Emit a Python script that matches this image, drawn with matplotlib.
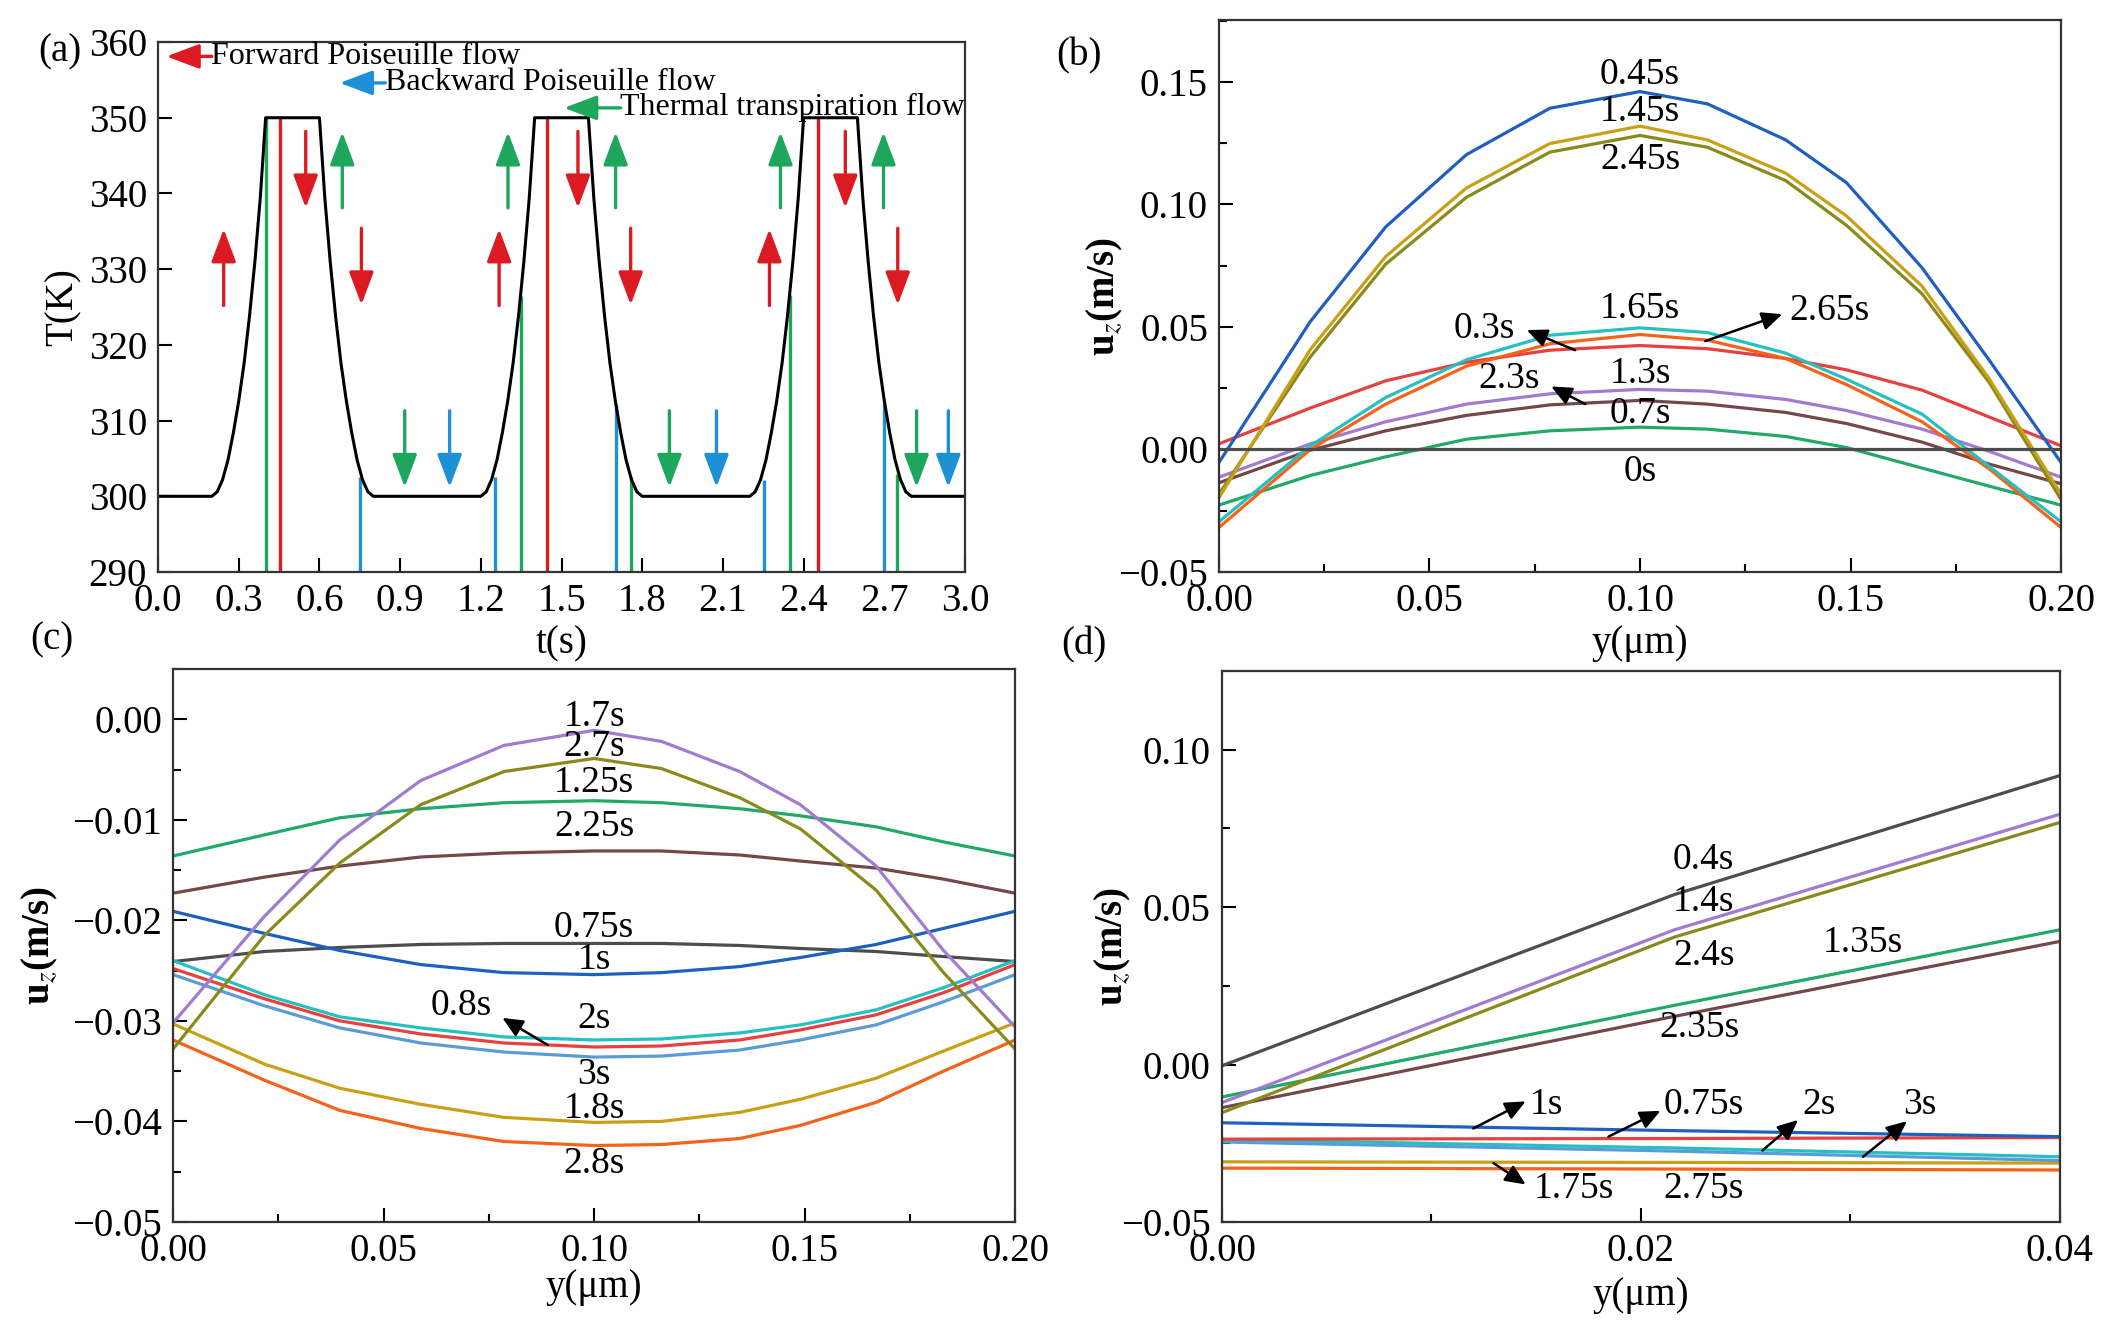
import matplotlib
matplotlib.use("Agg")
from matplotlib import pyplot as plt
from matplotlib.ticker import MultipleLocator

plt.rcParams["font.family"] = "serif"
plt.rcParams["font.serif"] = ["Liberation Serif", "DejaVu Serif"]
plt.rcParams["mathtext.fontset"] = "stix"

# ---- panel (a): wall temperature cycle ----
T_TIME = [0.00, 0.20, 0.22, 0.24, 0.26, 0.28, 0.30, 0.32, 0.34, 0.36, 0.38, 0.40,
          0.60, 0.62, 0.64, 0.66, 0.68, 0.70, 0.72, 0.74, 0.76, 0.78, 0.80,
          1.20, 1.22, 1.24, 1.26, 1.28, 1.30, 1.32, 1.34, 1.36, 1.38, 1.40,
          1.60, 1.62, 1.64, 1.66, 1.68, 1.70, 1.72, 1.74, 1.76, 1.78, 1.80,
          2.20, 2.22, 2.24, 2.26, 2.28, 2.30, 2.32, 2.34, 2.36, 2.38, 2.40,
          2.60, 2.62, 2.64, 2.66, 2.68, 2.70, 2.72, 2.74, 2.76, 2.78, 2.80, 3.00]
T_KELVIN = [300, 300, 300.6, 302.2, 304.8, 308.4, 312.6, 317.6, 323.8, 331.0, 339.4, 350,
            350, 339.4, 331.0, 323.8, 317.6, 312.6, 308.4, 304.8, 302.2, 300.6, 300,
            300, 300.6, 302.2, 304.8, 308.4, 312.6, 317.6, 323.8, 331.0, 339.4, 350,
            350, 339.4, 331.0, 323.8, 317.6, 312.6, 308.4, 304.8, 302.2, 300.6, 300,
            300, 300.6, 302.2, 304.8, 308.4, 312.6, 317.6, 323.8, 331.0, 339.4, 350,
            350, 339.4, 331.0, 323.8, 317.6, 312.6, 308.4, 304.8, 302.2, 300.6, 300, 300]

GREEN_LINE_T = [0.400, 1.351, 1.757, 2.351, 2.749]
GREEN_LINE_TOP = [350, 326.4, 302.6, 326.6, 303.0]
BLUE_LINE_T = [0.750, 1.252, 1.701, 2.252, 2.697]
BLUE_LINE_TOP = [302.6, 302.6, 312.2, 302.2, 312.2]
RED_LINE_T = [0.452, 1.447, 2.453]
RED_LINE_TOP = [350, 350, 350]

RED_UP_T = [0.244, 1.268, 2.273]
RED_DOWN_HI_T = [0.549, 1.561, 2.555]
RED_DOWN_LO_T = [0.756, 1.757, 2.750]
GREEN_UP_T = [0.685, 1.301, 1.701, 2.314, 2.697]
GREEN_DOWN_T = [0.917, 1.901, 2.820]
BLUE_DOWN_T = [1.084, 2.076, 2.938]

# ---- panels (b) and (c): profiles across the channel ----
Y_GRID = [0.0, 0.0217, 0.0396, 0.0588, 0.0786, 0.1, 0.116, 0.1346, 0.149, 0.167, 0.183, 0.2]

B_LABELS = ["0.3s", "0.7s", "2.3s", "1.3s", "2.65s", "1.65s", "2.45s", "1.45s", "0.45s", "0s"]
B_VALUES = [
    [0.0023, 0.0169, 0.028, 0.0356, 0.0405, 0.0424, 0.0411, 0.0371, 0.0325, 0.0242, 0.0132, 0.0015],
    [-0.0227, -0.0106, -0.003, 0.0042, 0.0076, 0.0091, 0.0083, 0.0053, 0.0008, -0.0076, -0.015, -0.0227],
    [-0.0136, -0.0003, 0.0076, 0.0139, 0.0182, 0.02, 0.0185, 0.0151, 0.0106, 0.003, -0.006, -0.014],
    [-0.0113, 0.0023, 0.0113, 0.0185, 0.0227, 0.0245, 0.0238, 0.0204, 0.0159, 0.0083, -0.0008, -0.0113],
    [-0.0318, 0.0, 0.0185, 0.034, 0.0431, 0.0469, 0.0446, 0.0371, 0.0265, 0.0113, -0.008, -0.0318],
    [-0.0295, 0.0015, 0.0212, 0.0366, 0.0466, 0.0496, 0.0477, 0.0393, 0.0287, 0.0144, -0.007, -0.0295],
    [-0.0182, 0.0378, 0.0756, 0.1029, 0.1213, 0.1281, 0.1233, 0.1097, 0.0915, 0.0635, 0.0272, -0.0204],
    [-0.0197, 0.0408, 0.0787, 0.1067, 0.1248, 0.1319, 0.1263, 0.1127, 0.0953, 0.0666, 0.0287, -0.0182],
    [-0.0053, 0.0522, 0.0908, 0.1203, 0.1392, 0.146, 0.141, 0.1263, 0.1089, 0.0741, 0.0363, -0.0053],
    [0, 0, 0, 0, 0, 0, 0, 0, 0, 0, 0, 0],
]
B_COLORS = ["#e8403f", "#22a86a", "#744848", "#a07bd0", "#f5621a", "#26c0c0",
            "#8a8a1c", "#c8a016", "#1f5fbf", "#4d4d4d"]

C_LABELS = ["1.25s", "2.25s", "0.75s", "1s", "3s", "0.8s", "2s", "1.8s", "2.8s", "2.7s", "1.7s"]
C_VALUES = [
    [-0.0136, -0.0115, -0.0098, -0.0089, -0.0083, -0.0081, -0.0083, -0.0089, -0.0096, -0.0107, -0.0122, -0.0136],
    [-0.0173, -0.0157, -0.0146, -0.0137, -0.0133, -0.0131, -0.0131, -0.0135, -0.0141, -0.0148, -0.0159, -0.0173],
    [-0.0241, -0.0231, -0.0227, -0.0224, -0.0223, -0.0223, -0.0223, -0.0225, -0.0228, -0.0231, -0.0236, -0.0241],
    [-0.0191, -0.0213, -0.023, -0.0244, -0.0252, -0.0254, -0.0252, -0.0246, -0.0237, -0.0224, -0.0208, -0.0191],
    [-0.0254, -0.0285, -0.0307, -0.0322, -0.0331, -0.0336, -0.0335, -0.0329, -0.0319, -0.0304, -0.0281, -0.0254],
    [-0.0248, -0.0278, -0.03, -0.0313, -0.0322, -0.0326, -0.0325, -0.0319, -0.0309, -0.0294, -0.0272, -0.0244],
    [-0.024, -0.0274, -0.0296, -0.0307, -0.0316, -0.0319, -0.0318, -0.0312, -0.0304, -0.0289, -0.0267, -0.024],
    [-0.0303, -0.0343, -0.0367, -0.0383, -0.0396, -0.0401, -0.04, -0.0391, -0.0378, -0.0357, -0.033, -0.0302],
    [-0.0319, -0.0359, -0.0389, -0.0407, -0.042, -0.0424, -0.0423, -0.0417, -0.0404, -0.0381, -0.035, -0.0319],
    [-0.0328, -0.0215, -0.0143, -0.0085, -0.0052, -0.0039, -0.0049, -0.0078, -0.0109, -0.017, -0.0252, -0.0328],
    [-0.0302, -0.0196, -0.012, -0.0061, -0.0026, -0.0011, -0.0022, -0.0052, -0.0085, -0.0146, -0.023, -0.0306],
]
C_COLORS = ["#22a86a", "#744848", "#4d4d4d", "#1f5fbf", "#5b9bd8", "#e8403f", "#26c0c0",
            "#c8a016", "#f5621a", "#8a8a1c", "#a07bd0"]

# ---- panel (d): near-wall profiles ----
D_X = [0.0, 0.0216, 0.04]
D_LABELS = ["2.75s", "1.75s", "3s", "2s", "0.75s", "1s", "2.35s", "1.35s", "2.4s", "1.4s", "0.4s"]
D_VALUES = [
    [-0.0329, -0.0332, -0.0335],
    [-0.0309, -0.0311, -0.0313],
    [-0.0246, -0.0275, -0.0305],
    [-0.0238, -0.0265, -0.0293],
    [-0.0237, -0.0235, -0.0232],
    [-0.0185, -0.0210, -0.0229],
    [-0.0137, 0.0153, 0.0391],
    [-0.0103, 0.0188, 0.0428],
    [-0.0153, 0.0405, 0.0769],
    [-0.0121, 0.0428, 0.0795],
    [-0.0004, 0.054, 0.0918],
]
D_COLORS = ["#f5621a", "#c8a016", "#5b9bd8", "#26c0c0", "#e8403f", "#1f5fbf",
            "#744848", "#22a86a", "#8a8a1c", "#a07bd0", "#4d4d4d"]

RED = "#dc1a22"
GREEN = "#1ea65d"
BLUE = "#1e90d6"
TICK_FS = 28
LABEL_FS = 27


def style_axes(ax):
    for s in ax.spines.values():
        s.set_linewidth(1.6)
        s.set_color("#333333")
    ax.tick_params(which="both", direction="in", width=1.5, labelsize=TICK_FS,
                   top=False, right=False)
    ax.tick_params(which="major", length=10, pad=8)
    ax.tick_params(which="minor", length=6)


def arrow(ax, tail, tip, color, lw=2.4, ms=36, hw=0.21):
    ax.annotate("", xy=tip, xytext=tail,
                arrowprops=dict(arrowstyle=f"-|>,head_length=0.56,head_width={hw}",
                                color=color, lw=lw, mutation_scale=ms,
                                shrinkA=0, shrinkB=0))


def pointer(ax, tail, tip):
    arrow(ax, tail, tip, "black", lw=1.8, ms=22, hw=0.25)


def label(ax, x, y, s):
    ax.text(x, y, s, fontsize=LABEL_FS, ha="center", va="center")


fig = plt.figure(figsize=(21.13, 13.34), dpi=100)

# (a)
ax = fig.add_axes([0.0748, 0.5712, 0.3819, 0.3973])
ax.vlines(GREEN_LINE_T, 290, GREEN_LINE_TOP, color=GREEN, lw=2.4)
ax.vlines(BLUE_LINE_T, 290, BLUE_LINE_TOP, color=BLUE, lw=2.4)
ax.vlines(RED_LINE_T, 290, RED_LINE_TOP, color=RED, lw=2.4)
ax.plot(T_TIME, T_KELVIN, color="black", lw=2.2)
for t in RED_UP_T:
    arrow(ax, (t, 325.2), (t, 335.3), RED)
for t in RED_DOWN_HI_T:
    arrow(ax, (t, 348.2), (t, 338.1), RED)
for t in RED_DOWN_LO_T:
    arrow(ax, (t, 335.4), (t, 325.3), RED)
for t in GREEN_UP_T:
    arrow(ax, (t, 338.1), (t, 348.1), GREEN)
for t in GREEN_DOWN_T:
    arrow(ax, (t, 311.3), (t, 301.2), GREEN)
for t in BLUE_DOWN_T:
    arrow(ax, (t, 311.3), (t, 301.2), BLUE)
arrow(ax, (0.20, 358.1), (0.031, 358.1), RED)
ax.text(0.198, 358.1, "Forward Poiseuille flow", fontsize=23, va="center", ha="left")
arrow(ax, (0.845, 354.6), (0.675, 354.6), BLUE)
ax.text(0.843, 354.6, "Backward Poiseuille flow", fontsize=23, va="center", ha="left")
arrow(ax, (1.72, 351.3), (1.509, 351.3), GREEN)
ax.text(1.718, 351.3, "Thermal transpiration flow", fontsize=23, va="center", ha="left")
ax.set_xlim(0, 3.0)
ax.set_ylim(290, 360)
ax.xaxis.set_major_locator(MultipleLocator(0.3))
ax.yaxis.set_major_locator(MultipleLocator(10))
ax.xaxis.set_major_formatter(lambda v, p: f"{v:.1f}")
style_axes(ax)
ax.set_xlabel("t(s)", fontsize=TICK_FS, va="center")
ax.xaxis.set_label_coords(0.5, -0.136)
ax.set_ylabel("T(K)", fontsize=TICK_FS, va="center")
ax.yaxis.set_label_coords(-0.118, 0.5)

# (b)
ax = fig.add_axes([0.5769, 0.5712, 0.3985, 0.4138])
for vals, c in zip(B_VALUES, B_COLORS):
    ax.plot(Y_GRID, vals, color=c, lw=2.3)
label(ax, 0.1, 0.1528, "0.45s")
label(ax, 0.1, 0.1377, "1.45s")
label(ax, 0.1, 0.118, "2.45s")
label(ax, 0.1, 0.0575, "1.65s")
label(ax, 0.145, 0.0567, "2.65s")
pointer(ax, (0.1155, 0.0442), (0.1338, 0.0552))
label(ax, 0.0630, 0.0492, "0.3s")
pointer(ax, (0.0846, 0.0405), (0.0731, 0.0487))
label(ax, 0.1, 0.031, "1.3s")
label(ax, 0.0688, 0.0287, "2.3s")
pointer(ax, (0.087, 0.0185), (0.0789, 0.0257))
label(ax, 0.1, 0.0144, "0.7s")
label(ax, 0.1, -0.0091, "0s")
ax.set_xlim(0, 0.2)
ax.set_ylim(-0.05, 0.1752)
ax.xaxis.set_major_locator(MultipleLocator(0.05))
ax.xaxis.set_minor_locator(MultipleLocator(0.025))
ax.yaxis.set_major_locator(MultipleLocator(0.05))
ax.yaxis.set_minor_locator(MultipleLocator(0.025))
ax.xaxis.set_major_formatter(lambda v, p: f"{v:.2f}")
ax.yaxis.set_major_formatter(lambda v, p: f"{v:.2f}".replace("-", "\u2212"))
style_axes(ax)
ax.set_xlabel("y(\u03bcm)", fontsize=TICK_FS, va="center")
ax.xaxis.set_label_coords(0.5, -0.130)
ax.set_ylabel("u$_z$(m/s)", fontsize=TICK_FS, fontweight="bold", va="center")
ax.yaxis.set_label_coords(-0.135, 0.5)

# (c)
ax = fig.add_axes([0.0819, 0.0840, 0.3985, 0.4145])
for vals, c in zip(C_VALUES, C_COLORS):
    ax.plot(Y_GRID, vals, color=c, lw=2.3)
for lab, yv in [("1.7s", 0.0003), ("2.7s", -0.0027), ("1.25s", -0.0063), ("2.25s", -0.0107),
                ("0.75s", -0.0207), ("1s", -0.0239), ("2s", -0.0298), ("3s", -0.0354),
                ("1.8s", -0.0387), ("2.8s", -0.0442)]:
    label(ax, 0.1, yv, lab)
label(ax, 0.0685, -0.0285, "0.8s")
pointer(ax, (0.089, -0.0324), (0.0782, -0.0297))
ax.set_xlim(0, 0.2)
ax.set_ylim(-0.05, 0.005)
ax.xaxis.set_major_locator(MultipleLocator(0.05))
ax.xaxis.set_minor_locator(MultipleLocator(0.025))
ax.yaxis.set_major_locator(MultipleLocator(0.01))
ax.yaxis.set_minor_locator(MultipleLocator(0.005))
ax.xaxis.set_major_formatter(lambda v, p: f"{v:.2f}")
ax.yaxis.set_major_formatter(
    lambda v, p: "0.00" if abs(v) < 1e-9 else f"{v:.2f}".replace("-", "\u2212"))
style_axes(ax)
ax.set_xlabel("y(\u03bcm)", fontsize=TICK_FS, va="center")
ax.xaxis.set_label_coords(0.5, -0.118)
ax.set_ylabel("u$_z$(m/s)", fontsize=TICK_FS, fontweight="bold", va="center")
ax.yaxis.set_label_coords(-0.158, 0.5)

# (d)
ax = fig.add_axes([0.5783, 0.0840, 0.3966, 0.4130])
for vals, c in zip(D_VALUES, D_COLORS):
    ax.plot(D_X, vals, color=c, lw=2.3)
label(ax, 0.023, 0.0651, "0.4s")
label(ax, 0.023, 0.0516, "1.4s")
label(ax, 0.023, 0.0346, "2.4s")
label(ax, 0.0306, 0.0387, "1.35s")
label(ax, 0.0228, 0.0117, "2.35s")
label(ax, 0.0155, -0.0129, "1s")
pointer(ax, (0.0120, -0.0203), (0.0145, -0.0117))
label(ax, 0.0230, -0.0129, "0.75s")
pointer(ax, (0.01845, -0.0229), (0.02093, -0.0147))
label(ax, 0.0285, -0.0129, "2s")
pointer(ax, (0.0258, -0.0273), (0.0275, -0.0176))
label(ax, 0.0333, -0.0129, "3s")
pointer(ax, (0.0306, -0.0293), (0.0327, -0.018))
label(ax, 0.0168, -0.0393, "1.75s")
pointer(ax, (0.01296, -0.0313), (0.0145, -0.0381))
label(ax, 0.0230, -0.0393, "2.75s")
ax.set_xlim(0, 0.04)
ax.set_ylim(-0.05, 0.125)
ax.xaxis.set_major_locator(MultipleLocator(0.02))
ax.xaxis.set_minor_locator(MultipleLocator(0.01))
ax.yaxis.set_major_locator(MultipleLocator(0.05))
ax.yaxis.set_minor_locator(MultipleLocator(0.025))
ax.xaxis.set_major_formatter(lambda v, p: f"{v:.2f}")
ax.yaxis.set_major_formatter(
    lambda v, p: "0.00" if abs(v) < 1e-9 else f"{v:.2f}".replace("-", "\u2212"))
style_axes(ax)
ax.set_xlabel("y(\u03bcm)", fontsize=TICK_FS, va="center")
ax.xaxis.set_label_coords(0.5, -0.134)
ax.set_ylabel("u$_z$(m/s)", fontsize=TICK_FS, fontweight="bold", va="center")
ax.yaxis.set_label_coords(-0.130, 0.5)

# panel tags
fig.text(60 / 2113, 1 - 52 / 1334, "(a)", fontsize=TICK_FS, ha="center", va="center")
fig.text(1079 / 2113, 1 - 56 / 1334, "(b)", fontsize=TICK_FS, ha="center", va="center")
fig.text(52 / 2113, 1 - 640 / 1334, "(c)", fontsize=TICK_FS, ha="center", va="center")
fig.text(1084 / 2113, 1 - 645 / 1334, "(d)", fontsize=TICK_FS, ha="center", va="center")

fig.savefig("out.png", dpi=100)
